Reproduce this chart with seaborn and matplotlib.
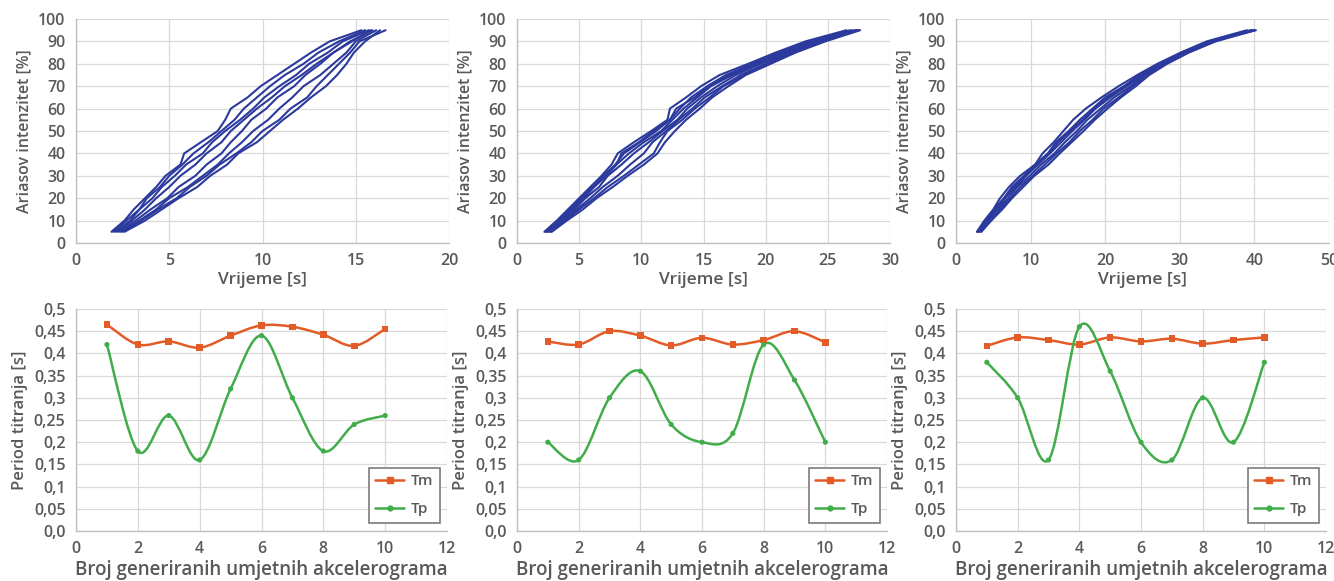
import numpy as np
import pandas as pd
import matplotlib
matplotlib.use("Agg")
import matplotlib.pyplot as plt
from matplotlib.path import Path
from matplotlib.patches import PathPatch
from matplotlib.lines import Line2D
import seaborn as sns

# ---------------- data ----------------
# Arias intensity levels [%] (shared by all accelerogram curves)
arias_levels = [5, 10, 15, 20, 25, 30, 35, 40, 45, 50, 55, 60, 65, 70, 75, 80, 85, 90, 95]

# time [s] at which each artificial accelerogram reaches the levels above
time_panel1 = [
    [1.9, 2.6, 3.1, 3.7, 4.3, 4.8, 5.6, 5.8, 6.7, 7.6, 8.0, 8.3, 9.2, 9.9, 10.8, 11.7, 12.6, 13.6, 15.3],
    [2.0, 2.7, 3.4, 3.8, 4.5, 5.0, 5.7, 6.3, 7.1, 7.8, 8.5, 9.0, 9.7, 10.4, 11.2, 12.2, 13.0, 14.1, 15.5],
    [2.1, 2.9, 3.4, 4.1, 4.6, 5.3, 5.9, 6.8, 7.3, 8.0, 8.8, 9.5, 10.1, 10.9, 11.8, 12.5, 13.5, 14.3, 15.7],
    [2.2, 3.0, 3.7, 4.3, 5.0, 5.6, 6.4, 7.0, 7.8, 8.3, 9.0, 9.7, 10.5, 11.2, 12.1, 12.9, 13.8, 14.7, 15.9],
    [2.3, 3.2, 4.0, 4.9, 5.5, 6.4, 7.0, 7.8, 8.3, 8.9, 9.4, 10.2, 10.8, 11.7, 12.3, 13.1, 13.8, 14.8, 15.8],
    [2.4, 3.4, 4.3, 5.0, 6.0, 6.8, 7.6, 8.2, 8.9, 9.5, 10.3, 10.9, 11.6, 12.2, 13.1, 13.8, 14.5, 15.0, 16.1],
    [2.5, 3.5, 4.4, 5.4, 6.1, 7.0, 7.7, 8.6, 9.4, 10.0, 10.9, 11.5, 12.4, 12.9, 13.5, 14.1, 14.7, 15.2, 16.6],
    [2.6, 3.7, 4.6, 5.5, 6.5, 7.2, 8.1, 8.7, 9.7, 10.4, 11.1, 11.9, 12.6, 13.4, 14.0, 14.5, 14.9, 15.5, 16.3],
]
time_panel2 = [
    [2.2, 3.2, 4.1, 5.0, 5.9, 6.8, 7.6, 8.1, 9.4, 10.8, 12.1, 12.3, 13.6, 14.8, 16.3, 18.6, 20.8, 23.2, 26.5],
    [2.3, 3.3, 4.3, 5.2, 6.2, 7.0, 7.9, 8.6, 9.9, 11.2, 12.3, 13.1, 14.0, 15.3, 16.8, 18.9, 21.1, 23.5, 27.0],
    [2.4, 3.5, 4.4, 5.4, 6.2, 7.2, 8.0, 9.0, 10.2, 11.6, 12.5, 13.4, 14.5, 15.6, 17.3, 19.3, 21.5, 23.9, 27.3],
    [2.5, 3.5, 4.6, 5.5, 6.6, 7.3, 8.4, 9.4, 10.6, 11.7, 12.9, 13.7, 14.8, 16.1, 17.6, 19.6, 21.8, 24.1, 27.5],
    [2.6, 3.7, 4.8, 5.9, 6.9, 8.1, 9.1, 10.2, 10.9, 12.0, 13.0, 14.1, 15.1, 16.5, 18.0, 20.0, 22.0, 24.4, 27.4],
    [2.7, 3.9, 5.0, 6.2, 7.3, 8.6, 9.8, 11.0, 11.5, 12.1, 13.3, 14.3, 15.5, 16.6, 18.3, 20.1, 22.3, 24.5, 27.2],
    [2.8, 4.0, 5.3, 6.4, 7.7, 8.9, 10.2, 11.3, 11.9, 12.7, 13.6, 14.7, 15.7, 17.0, 18.4, 20.4, 22.4, 24.8, 27.6],
    [2.4, 3.3, 4.3, 5.1, 6.1, 6.9, 8.0, 8.4, 9.8, 11.0, 12.3, 12.8, 14.3, 15.4, 17.1, 19.1, 21.4, 23.7, 26.8],
]
time_panel3 = [
    [2.8, 3.8, 5.0, 5.9, 7.1, 8.6, 10.6, 11.6, 13.1, 14.4, 15.7, 17.4, 19.5, 21.8, 24.3, 27.0, 30.1, 33.6, 39.0],
    [2.9, 4.1, 5.1, 6.4, 7.5, 9.1, 10.6, 12.3, 13.4, 15.1, 16.6, 18.3, 20.0, 22.5, 24.6, 27.4, 30.3, 33.9, 39.5],
    [3.0, 4.2, 5.5, 6.6, 8.0, 9.4, 11.0, 12.6, 14.1, 15.6, 17.2, 18.7, 20.7, 22.9, 25.1, 27.5, 30.6, 34.1, 40.0],
    [3.1, 4.4, 5.6, 7.0, 8.2, 9.9, 11.4, 13.2, 14.6, 16.2, 17.6, 19.4, 21.2, 23.4, 25.3, 27.9, 30.8, 34.4, 40.2],
    [3.3, 4.7, 5.9, 7.3, 8.6, 10.3, 11.9, 13.5, 15.2, 16.6, 18.3, 19.8, 21.8, 23.7, 25.7, 28.0, 31.1, 34.6, 39.8],
    [3.4, 4.7, 6.2, 7.5, 9.0, 10.5, 12.4, 13.9, 15.5, 17.1, 18.6, 20.3, 22.1, 24.1, 25.9, 28.3, 31.2, 34.8, 40.1],
    [2.9, 4.1, 5.2, 6.5, 7.7, 9.3, 10.8, 12.5, 13.7, 15.3, 17.0, 18.5, 20.4, 22.6, 24.9, 27.4, 30.4, 34.0, 39.7],
]

# number of generated artificial accelerograms
acc_index = [1, 2, 3, 4, 5, 6, 7, 8, 9, 10]
tm_panel1 = [0.465, 0.420, 0.427, 0.413, 0.440, 0.463, 0.460, 0.442, 0.417, 0.455]
tp_panel1 = [0.42, 0.18, 0.26, 0.16, 0.32, 0.44, 0.30, 0.18, 0.24, 0.26]
tm_panel2 = [0.427, 0.420, 0.450, 0.440, 0.418, 0.435, 0.420, 0.430, 0.450, 0.425]
tp_panel2 = [0.20, 0.16, 0.30, 0.36, 0.24, 0.20, 0.22, 0.42, 0.34, 0.20]
tm_panel3 = [0.417, 0.436, 0.430, 0.420, 0.436, 0.427, 0.433, 0.422, 0.430, 0.436]
tp_panel3 = [0.38, 0.30, 0.16, 0.46, 0.36, 0.20, 0.16, 0.30, 0.20, 0.38]

top_xmax = [20, 30, 50]
top_xstep = [5, 5, 10]
period_ticks = [0.0, 0.05, 0.1, 0.15, 0.2, 0.25, 0.3, 0.35, 0.4, 0.45, 0.5]
period_tick_labels = ["0,0", "0,05", "0,1", "0,15", "0,2", "0,25", "0,3", "0,35", "0,4", "0,45", "0,5"]

# ---------------- style ----------------
sns.set_theme(style="white")
plt.rcParams["font.family"] = ["Open Sans", "DejaVu Sans"]
plt.rcParams["font.weight"] = "semibold"
TEXT = "#595959"
GRID = "#d9d9d9"
SPINE = "#bfbfbf"
BLUE = "#2b3a9c"
ORANGE = "#e35b26"
GREEN = "#41ad4a"

fig = plt.figure(figsize=(13.34, 5.81), dpi=100)
W, H = 1334, 581


def axes_px(x0, x1, ytop, ybot):
    return fig.add_axes([x0 / W, 1 - ybot / H, (x1 - x0) / W, (ybot - ytop) / H])


def style_axes(ax):
    ax.grid(True, color=GRID, lw=0.9)
    ax.set_axisbelow(True)
    for s in ["top", "right"]:
        ax.spines[s].set_visible(False)
    for s in ["left", "bottom"]:
        ax.spines[s].set_color(SPINE)
        ax.spines[s].set_linewidth(1.0)
    ax.tick_params(axis="both", which="both", direction="out", length=5, width=1,
                   color=SPINE, labelcolor=TEXT, labelsize=11.5, pad=2.5)
    for lab in ax.get_xticklabels() + ax.get_yticklabels():
        lab.set_fontweight("semibold")


top_x = [(76, 449), (517, 890), (956, 1329)]
bot_x = [(76, 447), (517, 887), (956, 1326)]

# ---------------- top row ----------------
for i, curves in enumerate([time_panel1, time_panel2, time_panel3]):
    ax = axes_px(top_x[i][0], top_x[i][1], 19, 243)
    rows = []
    for k, c in enumerate(curves):
        for t, a in zip(c, arias_levels):
            rows.append({"curve": k, "t": t, "a": a})
    df = pd.DataFrame(rows)
    sns.lineplot(data=df, x="t", y="a", units="curve", estimator=None, sort=False,
                 color=BLUE, lw=1.5, ax=ax)
    ax.set_xlim(0, top_xmax[i])
    ax.set_ylim(0, 100)
    ax.set_xticks(np.arange(0, top_xmax[i] + 1, top_xstep[i]))
    ax.set_yticks(np.arange(0, 101, 10))
    style_axes(ax)
    ax.set_xlabel("Vrijeme [s]", fontsize=12.5, color=TEXT, labelpad=2, fontweight="semibold")
    ax.set_ylabel("Ariasov intenzitet [%]", fontsize=11.5, color=TEXT, labelpad=4, fontweight="semibold")


# ---------------- bottom row ----------------
def smooth_path(xs, ys):
    pts = np.column_stack([xs, ys]).astype(float)
    n = len(pts)
    verts = [pts[0]]
    codes = [Path.MOVETO]
    for j in range(n - 1):
        p0 = pts[j - 1] if j > 0 else pts[j]
        p1 = pts[j]
        p2 = pts[j + 1]
        p3 = pts[j + 2] if j + 2 < n else pts[j + 1]
        c1 = p1 + (p2 - p0) / 6.0
        c2 = p2 - (p3 - p1) / 6.0
        verts += [c1, c2, p2]
        codes += [Path.CURVE4] * 3
    return Path(verts, codes)


bottom = [(tm_panel1, tp_panel1), (tm_panel2, tp_panel2), (tm_panel3, tp_panel3)]
for i, (tm, tp) in enumerate(bottom):
    ax = axes_px(bot_x[i][0], bot_x[i][1], 309, 531)
    df = pd.DataFrame({"n": acc_index, "Tm": tm, "Tp": tp})
    ax.add_patch(PathPatch(smooth_path(df["n"], df["Tm"]), fill=False, edgecolor=ORANGE, lw=1.8, zorder=3))
    ax.add_patch(PathPatch(smooth_path(df["n"], df["Tp"]), fill=False, edgecolor=GREEN, lw=1.8, zorder=3))
    sns.scatterplot(data=df, x="n", y="Tm", marker="s", s=22, color=ORANGE, edgecolor="none", ax=ax, zorder=4)
    sns.scatterplot(data=df, x="n", y="Tp", marker="o", s=14, color=GREEN, edgecolor="none", ax=ax, zorder=4)
    ax.set_xlim(0, 12)
    ax.set_ylim(0, 0.5)
    ax.set_xticks(np.arange(0, 13, 2))
    ax.set_yticks(period_ticks)
    ax.set_yticklabels(period_tick_labels)
    style_axes(ax)
    ax.set_xlabel("Broj generiranih umjetnih akcelerograma", fontsize=13.5, color=TEXT, labelpad=2,
                  fontweight="semibold")
    ax.set_ylabel("Period titranja [s]", fontsize=12, color=TEXT, labelpad=4, fontweight="semibold")
    handles = [Line2D([], [], color=ORANGE, lw=1.8, marker="s", ms=4.5),
               Line2D([], [], color=GREEN, lw=1.8, marker="o", ms=3.5)]
    leg = ax.legend(handles, ["Tm", "Tp"], loc="lower right", bbox_to_anchor=(0.981, 0.036),
                    borderaxespad=0, frameon=True, fancybox=False, framealpha=1, edgecolor="#7a7a7a",
                    prop={"size": 11, "weight": "semibold"}, labelspacing=0.9, handlelength=1.9,
                    borderpad=0.45, handletextpad=0.4)
    leg.get_frame().set_linewidth(1.2)
    for t in leg.get_texts():
        t.set_color(TEXT)

fig.savefig("out.png", dpi=100)
